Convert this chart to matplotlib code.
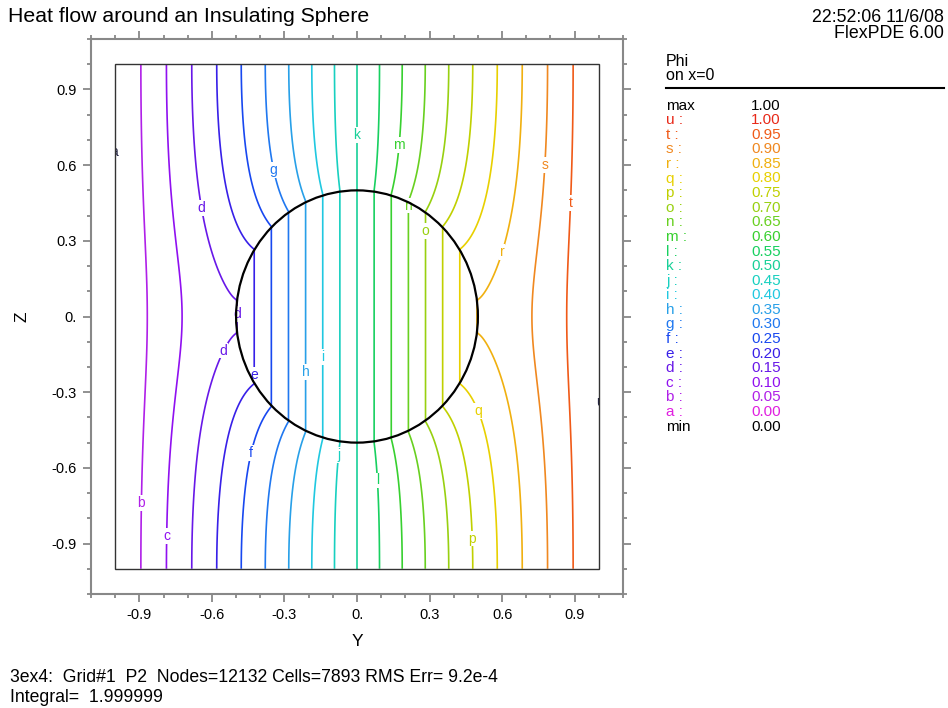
import matplotlib
matplotlib.use("Agg")
import matplotlib.pyplot as plt
import matplotlib.ticker as mt
from matplotlib.lines import Line2D
from matplotlib.patches import Circle, Rectangle
import numpy as np

plt.rcParams["font.family"] = ["Liberation Sans", "DejaVu Sans"]

title = "Heat flow around an Insulating Sphere"
stamp = ["22:52:06 11/6/08", "FlexPDE 6.00"]
footer = ["3ex4:  Grid#1  P2  Nodes=12132 Cells=7893 RMS Err= 9.2e-4",
          "Integral=  1.999999"]
legend_head = ["Phi", "on x=0"]

# contour levels a..u
letters = list("abcdefghijklmnopqrstu")
levels = [0.00, 0.05, 0.10, 0.15, 0.20, 0.25, 0.30, 0.35, 0.40, 0.45, 0.50,
          0.55, 0.60, 0.65, 0.70, 0.75, 0.80, 0.85, 0.90, 0.95, 1.00]
colours = ["#e020e0", "#b020e8", "#9010f0", "#6818e8", "#3820e8", "#1848f0",
           "#2078f0", "#28a0e8", "#20c8e0", "#18d0c0", "#18d098", "#18d060",
           "#38d030", "#68d020", "#98d010", "#c0d000", "#e8d000", "#f0b010",
           "#f08820", "#f05a18", "#e82818"]
phi_max, phi_min = 1.00, 0.00

# sphere and model of the solution (dipole + images of the box walls)
radius = 0.5
beta = 0.46   # dipole strength of the insulating sphere

# where the letters sit on the lines (letter, Y, Z)
label_spots = [("k", 0.0, 0.72), ("m", 0.17, 0.68), ("g", -0.34, 0.58),
               ("d", -0.64, 0.43), ("s", 0.78, 0.60), ("t", 0.885, 0.45),
               ("n", 0.205, 0.44), ("o", 0.27, 0.34), ("r", 0.59, 0.26),
               ("d", -0.49, 0.01), ("d", -0.52, -0.15), ("e", -0.42, -0.23),
               ("h", -0.21, -0.22), ("i", -0.14, -0.16), ("f", -0.43, -0.54),
               ("j", -0.07, -0.55), ("l", 0.08, -0.65), ("q", 0.49, -0.38),
               ("b", -0.89, -0.74), ("c", -0.78, -0.87), ("p", 0.47, -0.88)]
# labels of the boundary levels, mostly cut off by the box
edge_spots = [("a", -1.003, 0.652), ("u", 1.005, -0.34)]


def image_sum(yy, zz):
    s = np.zeros_like(yy)
    with np.errstate(divide="ignore", invalid="ignore"):
        for k in range(-3, 4):
            for m in range(-3, 4):
                for n in range(-3, 4):
                    dy = yy - 2 * k
                    r2 = dy ** 2 + (zz - 2 * m) ** 2 + (2 * n) ** 2
                    s = s + dy / r2 ** 1.5
    return s


y = np.linspace(-1, 1, 401)
z = np.linspace(-1, 1, 401)
Y, Z = np.meshgrid(y, z)
p = beta * radius ** 3
f = Y + p * image_sum(Y, Z)
f_edge = 1 + p * image_sum(np.ones_like(z), z)          # f at Y=1 for every Z
f_a = radius + p * image_sum(np.array([radius]), np.array([0.0]))[0]
f_norm = 1 + p * image_sum(np.array([1.0]), np.array([0.0]))[0]
phi_out = 0.5 + 0.5 * f / f_edge[:, None]
phi_in = 0.5 + 0.5 * (f_a / f_norm) * Y / radius
phi = np.where(Y ** 2 + Z ** 2 < radius ** 2, phi_in, phi_out)


def px(x, yv):
    return x / 948, 1 - yv / 708


fig = plt.figure(figsize=(9.48, 7.08), dpi=100)
ax = fig.add_axes([91 / 948, 1 - 594 / 708, 532 / 948, 555 / 708])
ax.set_xlim(-1.1, 1.1)
ax.set_ylim(-1.1, 1.1)

cs = ax.contour(Y, Z, phi, levels=levels[1:-1], colors=colours[1:-1], linewidths=1.2)

ax.add_patch(Circle((0, 0), radius, fill=False, ec="black", lw=1.6, zorder=4))
box = Rectangle((-1, -1), 2, 2, fill=False, ec="#333333", lw=1.0, zorder=5)
ax.add_patch(box)

# letters on the lines, snapped onto the drawn contour
for letter, ly, lz in label_spots:
    i = letters.index(letter)
    segs = cs.allsegs[i - 1]
    pts = np.vstack([s for s in segs if len(s)])
    j = np.argmin((pts[:, 0] - ly) ** 2 + (pts[:, 1] - lz) ** 2)
    ax.text(pts[j, 0], pts[j, 1], letter, color=colours[i], fontsize=10,
            ha="center", va="center", zorder=3,
            bbox=dict(fc="white", ec="none", pad=0.6))

for letter, ly, lz in edge_spots:
    t = ax.text(ly, lz, letter, color="#202040", fontsize=10, ha="center",
                va="center", clip_on=True)
    t.set_clip_path(box)

# axes frame
for sp in ax.spines.values():
    sp.set_color("#888888")
    sp.set_linewidth(1.5)
ax.xaxis.set_major_locator(mt.MultipleLocator(0.3))
ax.yaxis.set_major_locator(mt.MultipleLocator(0.3))
ax.xaxis.set_minor_locator(mt.MultipleLocator(0.1))
ax.yaxis.set_minor_locator(mt.MultipleLocator(0.1))
fmt = mt.FuncFormatter(lambda v, pos: "0." if abs(v) < 1e-9 else f"{v:.1f}")
ax.xaxis.set_major_formatter(fmt)
ax.yaxis.set_major_formatter(fmt)
ax.tick_params(which="both", direction="out", color="#888888", width=1.3,
               top=True, right=True, labelsize=10.5)
ax.tick_params(which="major", length=6, pad=4)
ax.tick_params(which="minor", length=3)

fig.text(*px(357, 641), "Y", fontsize=12.5, ha="center", va="center")
fig.text(*px(22, 317), "Z", fontsize=12.5, ha="center", va="center", rotation=90)

fig.text(*px(8, 16), title, fontsize=15.3, ha="left", va="center")
fig.text(*px(944, 18), stamp[0], fontsize=12.8, ha="right", va="center")
fig.text(*px(944, 34), stamp[1], fontsize=12.8, ha="right", va="center")
fig.text(*px(10, 677), footer[0], fontsize=12.7, ha="left", va="center")
fig.text(*px(10, 697), footer[1], fontsize=12.7, ha="left", va="center")

# legend panel
fig.text(*px(666, 62), legend_head[0], fontsize=11.5, ha="left", va="center")
fig.text(*px(666, 76), legend_head[1], fontsize=11.5, ha="left", va="center")
x0, yl = px(666, 88)
x1, _ = px(944, 88)
fig.add_artist(Line2D([x0, x1], [yl, yl], color="black", lw=1.5, transform=fig.transFigure))

rows = [("max", f"{phi_max:.2f}", "black")]
rows += [(f"{letters[i]} :", f"{levels[i]:.2f}", colours[i]) for i in range(len(letters) - 1, -1, -1)]
rows += [("min", f"{phi_min:.2f}", "black")]
for r, (name, val, col) in enumerate(rows):
    yy = 105.5 + r * 14.6
    fig.text(*px(666, yy), name, color=col, fontsize=11, ha="left", va="center")
    fig.text(*px(781, yy), val, color=col, fontsize=11, ha="right", va="center")

plt.savefig("out.png", dpi=100)
